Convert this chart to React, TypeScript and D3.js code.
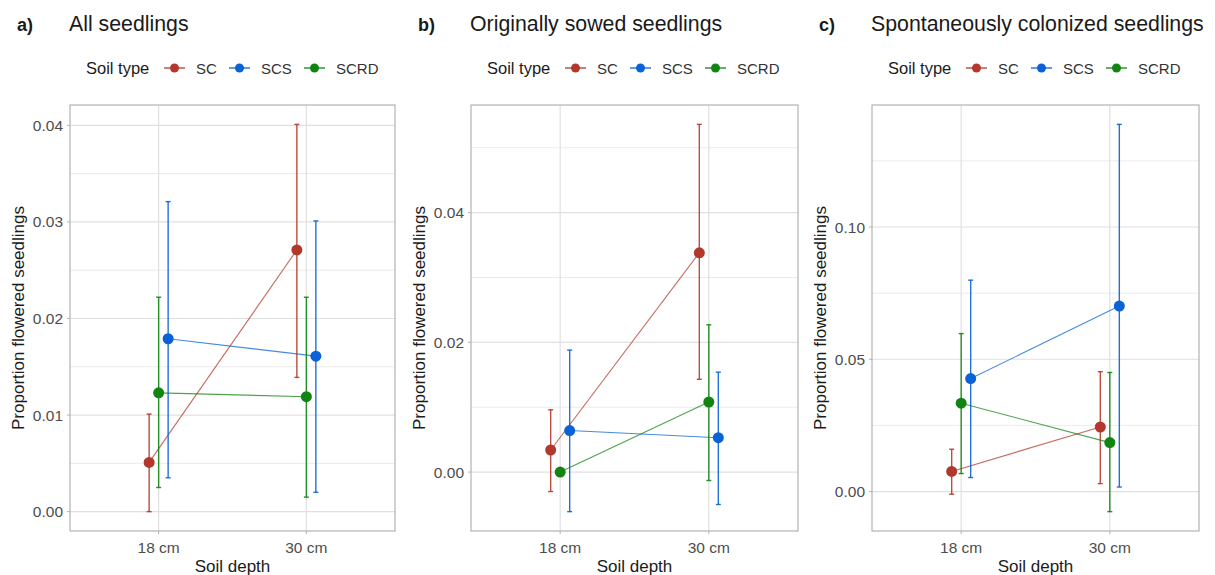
import React from "react";
import * as d3 from "d3";

// categories
const depths = ["18 cm", "30 cm"];
const soilTypes = ["SC", "SCS", "SCRD"];
const soilColors = ["#b2382b", "#0a62d6", "#118411"];

// panel a) All seedlings — rows: SC, SCS, SCRD; cols: 18 cm, 30 cm
const allMean = [
  [0.0051, 0.0271],
  [0.0179, 0.0161],
  [0.0123, 0.0119],
];
const allLow = [
  [0.0, 0.0139],
  [0.0035, 0.002],
  [0.0025, 0.0015],
];
const allHigh = [
  [0.0101, 0.0401],
  [0.0321, 0.0301],
  [0.0222, 0.0222],
];
const allTicks = [0, 0.01, 0.02, 0.03, 0.04];
const allMinor = [0.005, 0.015, 0.025, 0.035];

// panel b) Originally sowed seedlings
const sowMean = [
  [0.0034, 0.0338],
  [0.0064, 0.0053],
  [0.0, 0.0108],
];
const sowLow = [
  [-0.003, 0.0143],
  [-0.0061, -0.005],
  [0.0, -0.0013],
];
const sowHigh = [
  [0.0096, 0.0536],
  [0.0188, 0.0154],
  [0.0, 0.0227],
];
const sowTicks = [0, 0.02, 0.04];
const sowMinor = [0.01, 0.03, 0.05];

// panel c) Spontaneously colonized seedlings
const spoMean = [
  [0.0076, 0.0244],
  [0.0427, 0.0701],
  [0.0334, 0.0185],
];
const spoLow = [
  [-0.001, 0.003],
  [0.0053, 0.0017],
  [0.0068, -0.0076],
];
const spoHigh = [
  [0.016, 0.0453],
  [0.0799, 0.1388],
  [0.0597, 0.045],
];
const spoTicks = [0, 0.05, 0.1];
const spoMinor = [0.025, 0.075, 0.125];

const panels = [
  { tag: "a)", title: "All seedlings", mean: allMean, low: allLow, high: allHigh, ticks: allTicks, minor: allMinor, left: 70, right: 395 },
  { tag: "b)", title: "Originally sowed seedlings", mean: sowMean, low: sowLow, high: sowHigh, ticks: sowTicks, minor: sowMinor, left: 471, right: 798 },
  { tag: "c)", title: "Spontaneously colonized seedlings", mean: spoMean, low: spoLow, high: spoHigh, ticks: spoTicks, minor: spoMinor, left: 872, right: 1199 },
];

const dodge = [-9.5, 9.5, 0];
const top = 105;
const bottom = 531;
const font = "'Liberation Sans', Arial, sans-serif";

function Panel({ p }: { p: (typeof panels)[number] }) {
  const all = [...p.low.flat(), ...p.high.flat(), ...p.mean.flat()];
  const lo = d3.min(all)!;
  const hi = d3.max(all)!;
  const pad = (hi - lo) * 0.05;
  const y = d3.scaleLinear().domain([lo - pad, hi + pad]).range([bottom, top]);
  const x = d3.scalePoint().domain(depths).range([p.left, p.right]).padding(0.6);
  const line = d3
    .line<[number, number]>()
    .x((d) => d[0])
    .y((d) => d[1]);
  const fmt = d3.format(".2f");
  const cx = (p.left + p.right) / 2;
  const cy = (top + bottom) / 2;

  return (
    <g>
      <text x={p.left - 53} y={31} fontSize={18} fontWeight="bold" fill="#1a1a1a">
        {p.tag}
      </text>
      <text x={p.left - 1} y={31} fontSize={21.3} fill="#1a1a1a">
        {p.title}
      </text>

      {/* legend */}
      <g transform={`translate(${p.left + 16},0)`}>
        <text x={0} y={74} fontSize={16.5} fill="#1a1a1a">
          Soil type
        </text>
        {soilTypes.map((s, i) => {
          const kx = [78, 143, 218][i];
          return (
            <g key={s}>
              <line x1={kx} x2={kx + 21} y1={68} y2={68} stroke={soilColors[i]} strokeWidth={1.3} />
              <circle cx={kx + 10.5} cy={68} r={4.5} fill={soilColors[i]} />
              <text x={kx + 32} y={74} fontSize={15} fill="#333">
                {s}
              </text>
            </g>
          );
        })}
      </g>

      {/* grid */}
      {p.minor
        .filter((v) => y(v) > top && y(v) < bottom)
        .map((v) => (
          <line key={"m" + v} x1={p.left} x2={p.right} y1={y(v)} y2={y(v)} stroke="#ebebeb" strokeWidth={1} />
        ))}
      {p.ticks.map((v) => (
        <line key={"t" + v} x1={p.left} x2={p.right} y1={y(v)} y2={y(v)} stroke="#e0e0e0" strokeWidth={1.2} />
      ))}
      {depths.map((d) => (
        <line key={d} x1={x(d)} x2={x(d)} y1={top} y2={bottom} stroke="#e0e0e0" strokeWidth={1.2} />
      ))}
      <rect x={p.left} y={top} width={p.right - p.left} height={bottom - top} fill="none" stroke="#b3b3b3" strokeWidth={1.2} />

      {/* axes */}
      {p.ticks.map((v) => (
        <g key={"yl" + v}>
          <line x1={p.left - 3} x2={p.left} y1={y(v)} y2={y(v)} stroke="#b3b3b3" />
          <text x={p.left - 7} y={y(v) + 5.5} fontSize={15.5} fill="#4d4d4d" textAnchor="end">
            {fmt(v)}
          </text>
        </g>
      ))}
      {depths.map((d) => (
        <g key={"xl" + d}>
          <line x1={x(d)} x2={x(d)} y1={bottom} y2={bottom + 3} stroke="#b3b3b3" />
          <text x={x(d)} y={bottom + 22} fontSize={15.5} fill="#4d4d4d" textAnchor="middle">
            {d}
          </text>
        </g>
      ))}
      <text x={cx} y={572} fontSize={17} fill="#1a1a1a" textAnchor="middle">
        Soil depth
      </text>
      <text
        transform={`translate(${p.left - 46},${cy}) rotate(-90)`}
        fontSize={17}
        fill="#1a1a1a"
        textAnchor="middle"
      >
        Proportion flowered seedlings
      </text>

      {/* data */}
      {soilTypes.map((s, i) => {
        const pts = depths.map((d, j) => [x(d)! + dodge[i], y(p.mean[i][j])] as [number, number]);
        return (
          <g key={s}>
            <path d={line(pts)!} fill="none" stroke={soilColors[i]} strokeWidth={1.1} strokeOpacity={0.75} />
            {depths.map((d, j) => {
              const px = x(d)! + dodge[i];
              const yl = y(p.low[i][j]);
              const yh = y(p.high[i][j]);
              return (
                <g key={d}>
                  {yl - yh > 0.5 && (
                    <g stroke={soilColors[i]} strokeWidth={1.4} strokeOpacity={0.9}>
                      <line x1={px} x2={px} y1={yh} y2={yl} />
                      <line x1={px - 2.5} x2={px + 2.5} y1={yh} y2={yh} />
                      <line x1={px - 2.5} x2={px + 2.5} y1={yl} y2={yl} />
                    </g>
                  )}
                  <circle cx={px} cy={y(p.mean[i][j])} r={5.5} fill={soilColors[i]} />
                </g>
              );
            })}
          </g>
        );
      })}
    </g>
  );
}

export default function App() {
  return (
    <svg
      width={1215}
      height={575}
      style={{ position: "absolute", left: 0, top: 0, display: "block", fontFamily: font, background: "#fff" }}
    >
      <rect width={1215} height={575} fill="#fff" />
      {panels.map((p) => (
        <Panel key={p.tag} p={p} />
      ))}
    </svg>
  );
}
